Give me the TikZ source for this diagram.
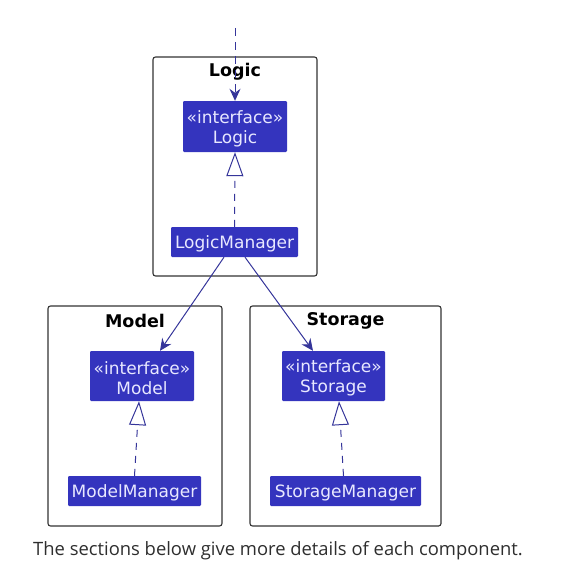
\documentclass[tikz,border=0pt]{standalone}
\usepackage{fontspec}
\setmainfont{DejaVu Sans}
\newfontfamily\capfont{Open Sans}
\usetikzlibrary{arrows.meta}
\definecolor{cls}{HTML}{3434BE}
\definecolor{clstext}{HTML}{E8E8FF}
\definecolor{arr}{HTML}{35359A}
\definecolor{pkg}{HTML}{333333}
\definecolor{capgray}{HTML}{2E2E2E}
\begin{document}
\begin{tikzpicture}[x=1pt,y=-1pt,
  pkgbox/.style={draw=pkg,line width=1.1pt,rounded corners=2.5pt,inner sep=0},
  clsbox/.style={fill=cls,inner sep=0,rounded corners=1.2pt},
  clstxt/.style={text=clstext,font=\fontsize{17}{20}\selectfont,align=center,inner sep=0,yshift=-2pt},
  pkgtitle/.style={font=\bfseries\fontsize{17.5}{21}\selectfont,inner sep=0},
  dep/.style={draw=arr,line width=1pt,-{Stealth[length=12pt,width=11pt,inset=4pt]}},
  real/.style={draw=arr,line width=1pt,dash pattern=on 7pt off 6pt,-{Triangle[open,length=24pt,width=17pt,fill=white]}}]
\useasboundingbox (0,0) rectangle (574,578);
% packages
\node[pkgbox,minimum width=164pt,minimum height=219pt] (logicpkg) at (235,166.5) {};
\node[pkgbox,minimum width=174pt,minimum height=220pt] (modelpkg) at (135,416) {};
\node[pkgbox,minimum width=191pt,minimum height=220pt] (storagepkg) at (345.5,416) {};
\node[pkgtitle] (logictitle) at (235,72) {Logic};
\node[pkgtitle] (modeltitle) at (135,321) {Model};
\node[pkgtitle] (storagetitle) at (345.5,321) {Storage};
% classes
\node[clsbox,minimum width=104pt,minimum height=51pt,label={[clstxt]center:{«interface»\\Logic}}] (logic) at (235,126.5) {};
\node[clsbox,minimum width=127pt,minimum height=30pt,label={[clstxt]center:LogicManager}] (lm) at (234.5,242) {};
\node[clsbox,minimum width=104pt,minimum height=50pt,label={[clstxt]center:{«interface»\\Model}}] (model) at (142,376) {};
\node[clsbox,minimum width=133pt,minimum height=30pt,label={[clstxt]center:ModelManager}] (mm) at (134.5,491) {};
\node[clsbox,minimum width=103pt,minimum height=50pt,label={[clstxt]center:{«interface»\\Storage}}] (storage) at (333.5,376) {};
\node[clsbox,minimum width=151pt,minimum height=30pt,label={[clstxt]center:StorageManager}] (sm) at (345.5,491) {};
% connectors
\coordinate (src) at (235,28);
\draw[dep,dash pattern=on 8pt off 6pt] (src) -- (logic.north);
\draw[real] (lm.north) -- (logic.south);
\draw[real] (mm.north) -- ([xshift=-3pt]model.south);
\draw[real] ([xshift=-2pt]sm.north) -- ([xshift=5.5pt]storage.south);
\draw[dep] ([xshift=-10.5pt]lm.south) -- ([xshift=18pt]model.north);
\draw[dep] ([xshift=10.5pt]lm.south) -- ([xshift=-20.5pt]storage.north);
% caption
\node[font=\capfont\fontsize{18.4}{22}\selectfont,text=capgray,anchor=west,inner sep=0] (caption) at (33,551) {The sections below give more details of each component.};
\end{tikzpicture}
\end{document}
